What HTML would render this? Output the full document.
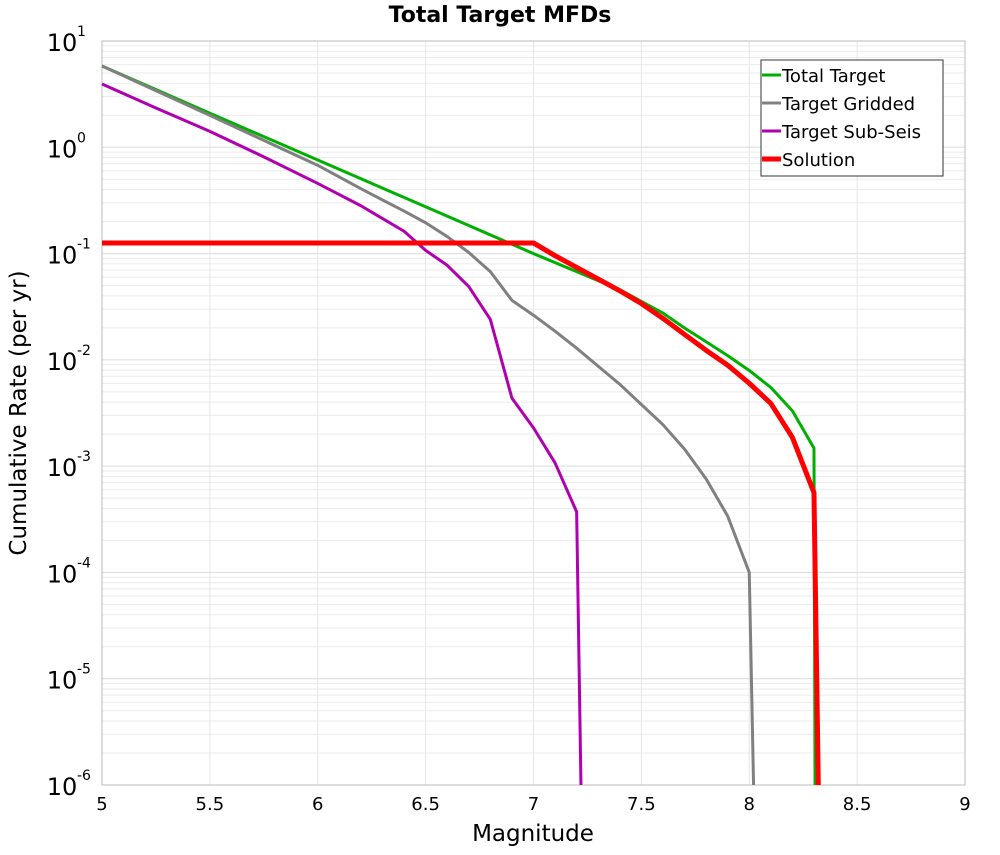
<!DOCTYPE html>
<html><head><meta charset="utf-8"><style>
body{margin:0;background:#fff;font-family:"Liberation Sans","DejaVu Sans",sans-serif}
</style></head><body>
<svg id="chart" width="1000" height="850" xmlns="http://www.w3.org/2000/svg" font-family="DejaVu Sans, Liberation Sans, sans-serif"></svg>
<script>
const totalM=[5,5.5,6,6.5,7,7.2,7.4,7.5,7.6,7.7,7.8,7.9,8.0,8.1,8.2,8.3,8.305];
const totalLog=[0.765,0.32,-0.12,-0.56,-1.0,-1.17,-1.34,-1.45,-1.56,-1.70,-1.83,-1.96,-2.1,-2.26,-2.48,-2.83,-6];
const griddedM=[5,5.5,6,6.2,6.4,6.5,6.6,6.7,6.8,6.9,7.0,7.1,7.2,7.3,7.4,7.5,7.6,7.7,7.8,7.9,8.0,8.02];
const griddedLog=[0.765,0.30,-0.17,-0.39,-0.60,-0.71,-0.84,-0.99,-1.17,-1.44,-1.58,-1.73,-1.89,-2.06,-2.23,-2.42,-2.61,-2.84,-3.12,-3.47,-4.0,-6];
const subM=[5,5.25,5.5,5.75,6,6.2,6.4,6.5,6.6,6.7,6.8,6.9,7.0,7.1,7.2,7.22];
const subLog=[0.595,0.37,0.15,-0.09,-0.34,-0.55,-0.79,-0.97,-1.11,-1.31,-1.62,-2.36,-2.64,-2.97,-3.43,-6];
const solM=[5,7.0,7.1,7.2,7.3,7.4,7.5,7.6,7.7,7.8,7.9,8.0,8.1,8.2,8.3,8.32];
const solLog=[-0.90,-0.90,-1.02,-1.13,-1.24,-1.35,-1.47,-1.61,-1.76,-1.91,-2.05,-2.22,-2.41,-2.73,-3.25,-6];
const xTicks=[5,5.5,6,6.5,7,7.5,8,8.5,9];
const yTicks=[1,0,-1,-2,-3,-4,-5,-6];

const svg=document.getElementById('chart');
const NS='http://www.w3.org/2000/svg';
const L=102,R=965,T=41,B=785;
const xs=m=>L+(m-5)/4*(R-L);
const ys=l=>T+(1-l)/7*(B-T);
function mk(t,a,p){const e=document.createElementNS(NS,t);for(const k in a)e.setAttribute(k,a[k]);(p||svg).appendChild(e);return e;}
const grid=mk('g',{});


for(let d=-6;d<1;d++)for(let k=2;k<10;k++){const y=ys(d+Math.log10(k));mk('line',{x1:L,x2:R,y1:y,y2:y,stroke:'#ebebeb','stroke-width':1},grid);}
for(let m=5.5;m<9;m+=0.5){mk('line',{x1:xs(m),x2:xs(m),y1:T,y2:B,stroke:'#e6e6e6','stroke-width':1},grid);}
yTicks.forEach(l=>{mk('line',{x1:L,x2:R,y1:ys(l),y2:ys(l),stroke:'#dcdcdc','stroke-width':1},grid);});
const frame=mk('rect',{x:L,y:T,width:R-L,height:B-T,fill:'none',stroke:'#bbb'});


function series(M,Lg,color,w,name){const p=mk('polyline',{points:M.map((m,i)=>xs(m)+','+ys(Lg[i])).join(' '),fill:'none',stroke:color,'stroke-width':w,'stroke-linejoin':'round'});

}
series(totalM,totalLog,'#00b000',3,'total-target-line');
series(griddedM,griddedLog,'#808080',3,'target-gridded-line');
series(subM,subLog,'#b000b0',3,'target-sub-seis-line');
series(solM,solLog,'#ff0000',5,'solution-line');
xTicks.forEach(m=>{const t=mk('text',{x:xs(m),y:810,'font-size':18,'text-anchor':'middle',fill:'#000'});t.textContent=String(m);

});
yTicks.forEach(l=>{const t=mk('text',{x:62,y:ys(l)+10,'font-size':24,'text-anchor':'middle',fill:'#000'});t.textContent='10';


const s=mk('text',{x:77,y:ys(l)-5,'font-size':14,'text-anchor':'start',fill:'#000'});s.textContent=String(l);

});
const title=mk('text',{x:500,y:22,'font-size':22,'font-weight':'bold','text-anchor':'middle'});title.textContent='Total Target MFDs';


const xt=mk('text',{x:533,y:841,'font-size':23,'text-anchor':'middle'});xt.textContent='Magnitude';


const yt=mk('text',{x:0,y:0,'font-size':23,'text-anchor':'middle',transform:'translate(26,413) rotate(-90)'});yt.textContent='Cumulative Rate (per yr)';


const lg=mk('g',{});


mk('rect',{x:761,y:60,width:182,height:116,fill:'#fff',stroke:'#333','stroke-width':1},lg);
[['Total Target','#00b000',3],['Target Gridded','#808080',3],['Target Sub-Seis','#b000b0',3],['Solution','#ff0000',5]].forEach((e,i)=>{const y=75+i*28;
const g=mk('g',{},lg);


mk('line',{x1:762,x2:781,y1:y,y2:y,stroke:e[1],'stroke-width':e[2]},g);
const t=mk('text',{x:782,y:y+7,'font-size':18},g);t.textContent=e[0];});
</script>
</body></html>
